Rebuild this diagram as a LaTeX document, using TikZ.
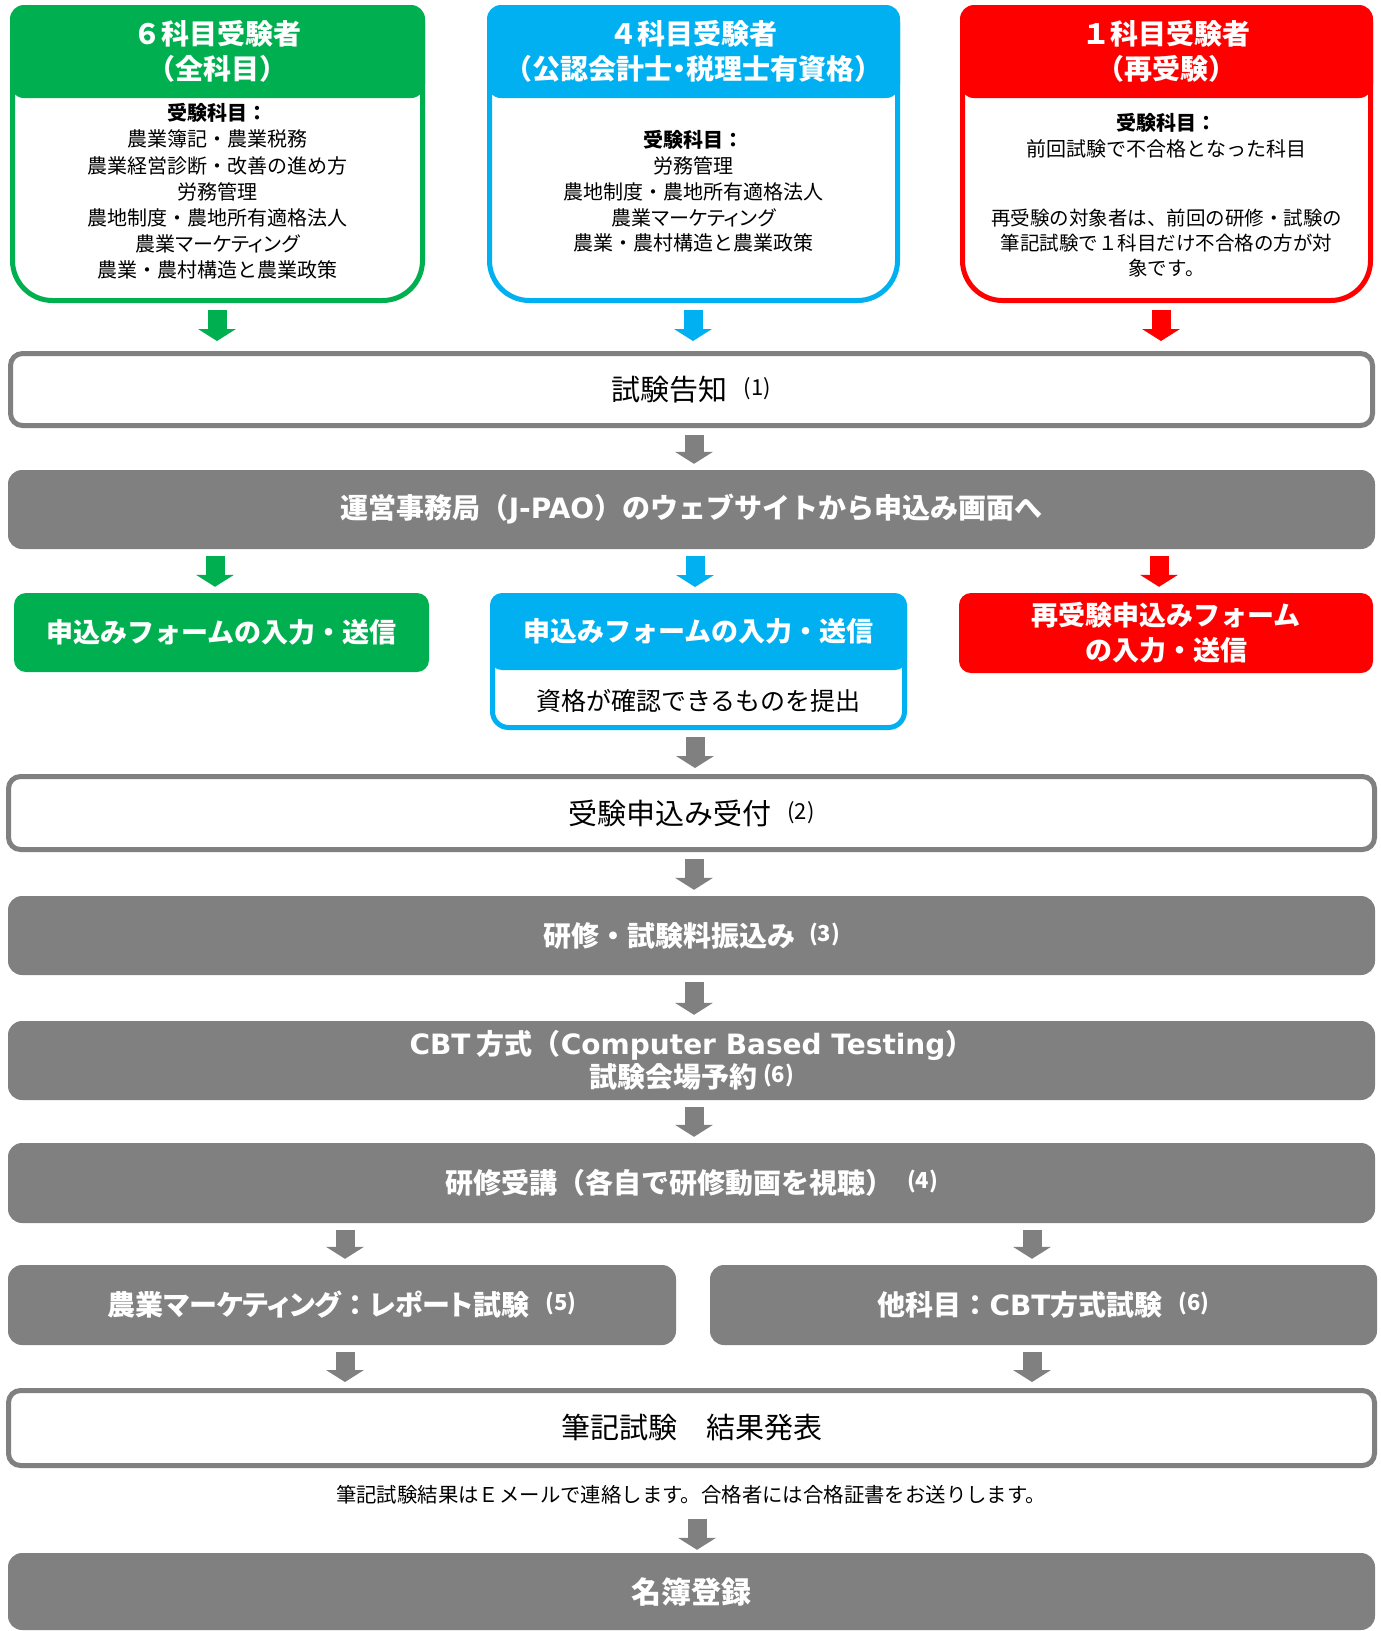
\documentclass[tikz,border=0pt]{standalone}
\usepackage{fontspec}
\setmainfont{Noto Sans CJK JP}
\newfontfamily\pf{Noto Sans CJK JP}[RawFeature=+palt]
\newfontfamily\lat{DejaVu Sans}
\usetikzlibrary{arrows.meta}
\definecolor{gr}{HTML}{00B050}
\definecolor{bl}{HTML}{00B0F0}
\definecolor{rd}{HTML}{FF0000}
\definecolor{gy}{HTML}{808080}
\newcommand\nt[1]{\raisebox{5pt}[0pt][0pt]{\fontsize{22}{22}\selectfont(#1)}}
\newcommand\la[1]{{\lat\fontsize{28}{33}\selectfont #1}}
\begin{document}
\begin{tikzpicture}[x=1pt,y=-1pt,
  inv/.style={inner sep=0pt, outer sep=0pt, draw=none},
  cardline/.style={line width=5pt, fill=white},
  hdr/.style={rounded corners=14pt, inner sep=0pt, text=white, align=center, font=\bfseries\fontsize{28}{35}\selectfont},
  body/.style={inner sep=0pt, align=center, font=\fontsize{20}{26.2}\selectfont},
  wbox/.style={draw=gy, line width=5pt, fill=white, rounded corners=12pt, inner sep=0pt, font=\fontsize{29}{34}\selectfont},
  gbar/.style={fill=gy, rounded corners=14pt, inner sep=0pt, text=white, align=center, font=\bfseries\fontsize{28}{33}\selectfont},
  cbar/.style={rounded corners=12pt, inner sep=0pt, text=white, align=center, font=\bfseries\fontsize{27}{35}\selectfont},
  arr/.style={line width=19pt, -{Triangle[length=12pt,width=38pt,line width=0pt]}, shorten <=7pt, shorten >=6pt},
]
\useasboundingbox (0,0) rectangle (1381,1631);

% ---------- top cards ----------
\node[inv, minimum width=415pt, minimum height=298pt] (c1) at (217.5,154) {};
\draw[cardline, draw=gr] (12.5,154) [rounded corners=15pt] |- (217.5,7.5) -| (422.5,154) [rounded corners=40pt] |- (217.5,300.5) -| (12.5,154) -- cycle;
\node[hdr, fill=gr, minimum width=415pt, minimum height=93pt] (c1h) at (217.5,51.5) {６科目受験者\\（全科目）};
\node[body] (c1t) at (217.5,191.5) {\textbf{受験科目：}\\農業簿記・農業税務\\農業経営診断・改善の進め方\\労務管理\\農地制度・農地所有適格法人\\農業{\pf マーケティング}\\農業・農村構造と農業政策};

\node[inv, minimum width=413pt, minimum height=298pt] (c2) at (693.5,154) {};
\draw[cardline, draw=bl] (489.5,154) [rounded corners=15pt] |- (693.5,7.5) -| (897.5,154) [rounded corners=40pt] |- (693.5,300.5) -| (489.5,154) -- cycle;
\node[hdr, fill=bl, minimum width=413pt, minimum height=93pt] (c2h) at (693.5,51.5) {４科目受験者\\（公認会計士{\pf ・}税理士有資格）};
\node[body, font=\fontsize{20}{25.8}\selectfont] (c2t) at (693.5,191.5) {\textbf{受験科目：}\\労務管理\\農地制度・農地所有適格法人\\農業{\pf マーケティング}\\農業・農村構造と農業政策};

\node[inv, minimum width=413pt, minimum height=298pt] (c3) at (1166.5,154) {};
\draw[cardline, draw=rd] (962.5,154) [rounded corners=15pt] |- (1166.5,7.5) -| (1370.5,154) [rounded corners=40pt] |- (1166.5,300.5) -| (962.5,154) -- cycle;
\node[hdr, fill=rd, minimum width=413pt, minimum height=93pt] (c3h) at (1166.5,51.5) {１科目受験者\\（再受験）};
\node[body, font=\fontsize{20}{26}\selectfont] (c3t) at (1166.5,136) {\textbf{受験科目：}\\前回試験で不合格となった科目};
\node[body, font=\fontsize{19.5}{25}\selectfont] (c3u) at (1166.5,243) {再受験の対象者は、前回の研修・試験の\\筆記試験で１科目だけ不合格の方が対\\象です。};

% ---------- flow ----------
\node[wbox, minimum width=1362pt, minimum height=72pt] (b1) at (691.5,389.5) {試験告知\hspace{16pt}\nt{1}};
\node[gbar, minimum width=1367pt, minimum height=79pt] (b2) at (691.5,509.5) {運営事務局（\la{J-PAO}）のウェブサイトから申込み画面へ};

\node[cbar, fill=gr, minimum width=415pt, minimum height=79pt] (g2) at (221.5,632.5) {申込みフォームの入力・送信};

\node[inv, minimum width=417pt, minimum height=137pt] (bl2) at (698.5,661.5) {};
\draw[cardline, draw=bl] (492.5,661.5) [rounded corners=12pt] |- (698.5,595.5) -| (904.5,661.5) [rounded corners=16pt] |- (698.5,727.5) -| (492.5,661.5) -- cycle;
\node[cbar, fill=bl, minimum width=417pt, minimum height=77pt] (bl2h) at (698.5,631.5) {申込みフォームの入力・送信};
\node[body, font=\fontsize{25}{30}\selectfont] (bl2t) at (698.5,701) {資格が確認できるものを提出};

\node[cbar, fill=rd, minimum width=414pt, minimum height=80pt] (r2) at (1166,633) {再受験申込みフォーム\\の入力・送信};

\node[wbox, minimum width=1366pt, minimum height=73pt] (b3) at (691.5,813) {受験申込み受付\hspace{16pt}\nt{2}};
\node[gbar, minimum width=1367pt, minimum height=79pt] (b4) at (691.5,935.5) {研修・試験料振込み\hspace{14pt}\nt{3}};
\node[gbar, minimum width=1367pt, minimum height=79pt] (b5) at (691.5,1060.5) {\la{CBT} 方式（\la{Computer Based Testing}）\\試験会場予約\hspace{6pt}\nt{6}};
\node[gbar, minimum width=1367pt, minimum height=80pt] (b6) at (691.5,1183) {研修受講（各自で研修動画を視聴）\hspace{14pt}\nt{4}};
\node[gbar, minimum width=668pt, minimum height=80pt] (b7) at (342,1305) {農業{\pf マーケティング}：{\pf レポート}試験\hspace{16pt}\nt{5}};
\node[gbar, minimum width=667pt, minimum height=80pt] (b8) at (1043.5,1305) {他科目：\la{CBT}方式試験\hspace{16pt}\nt{6}};
\node[wbox, minimum width=1366pt, minimum height=75pt] (b9) at (691.5,1428) {筆記試験　結果発表};
\node[inv, font=\fontsize{20.4}{24}\selectfont] (note) at (691,1495) {筆記試験結果はＥメールで連絡します。合格者には合格証書をお送りします。};
\node[gbar, minimum width=1367pt, minimum height=77pt, font=\bfseries\fontsize{30}{34}\selectfont] (b10) at (691.5,1591.5) {名簿登録};

% ---------- arrow columns ----------
\coordinate (xg1) at (217,0);
\coordinate (xb1) at (693,0);
\coordinate (xr1) at (1161,0);
\coordinate (xg2) at (215,0);
\coordinate (xb2) at (695,0);
\coordinate (xr2) at (1159,0);
\coordinate (xm) at (694,0);
\coordinate (xl) at (345,0);
\coordinate (xr) at (1032,0);
\coordinate (xn) at (697,0);

\draw[arr, gr, shorten >=10pt] (c1.south -| xg1) -- (b1.north -| xg1);
\draw[arr, bl, shorten >=10pt] (c2.south -| xb1) -- (b1.north -| xb1);
\draw[arr, rd, shorten >=10pt] (c3.south -| xr1) -- (b1.north -| xr1);
\draw[arr, gy] (b1.south -| xm) -- (b2.north -| xm);
\draw[arr, gr] (b2.south -| xg2) -- (g2.north -| xg2);
\draw[arr, bl] (b2.south -| xb2) -- (bl2.north -| xb2);
\draw[arr, rd] (b2.south -| xr2) -- (r2.north -| xr2);
\draw[arr, gy] (bl2.south -| xb2) -- (b3.north -| xb2);
\draw[arr, gy] (b3.south -| xm) -- (b4.north -| xm);
\draw[arr, gy] (b4.south -| xm) -- (b5.north -| xm);
\draw[arr, gy] (b5.south -| xm) -- (b6.north -| xm);
\draw[arr, gy] (b6.south -| xl) -- (b7.north -| xl);
\draw[arr, gy] (b6.south -| xr) -- (b8.north -| xr);
\draw[arr, gy] (b7.south -| xl) -- (b9.north -| xl);
\draw[arr, gy] (b8.south -| xr) -- (b9.north -| xr);
\draw[arr, gy, shorten <=51pt, shorten >=3pt] (b9.south -| xn) -- (b10.north -| xn);
\end{tikzpicture}
\end{document}
